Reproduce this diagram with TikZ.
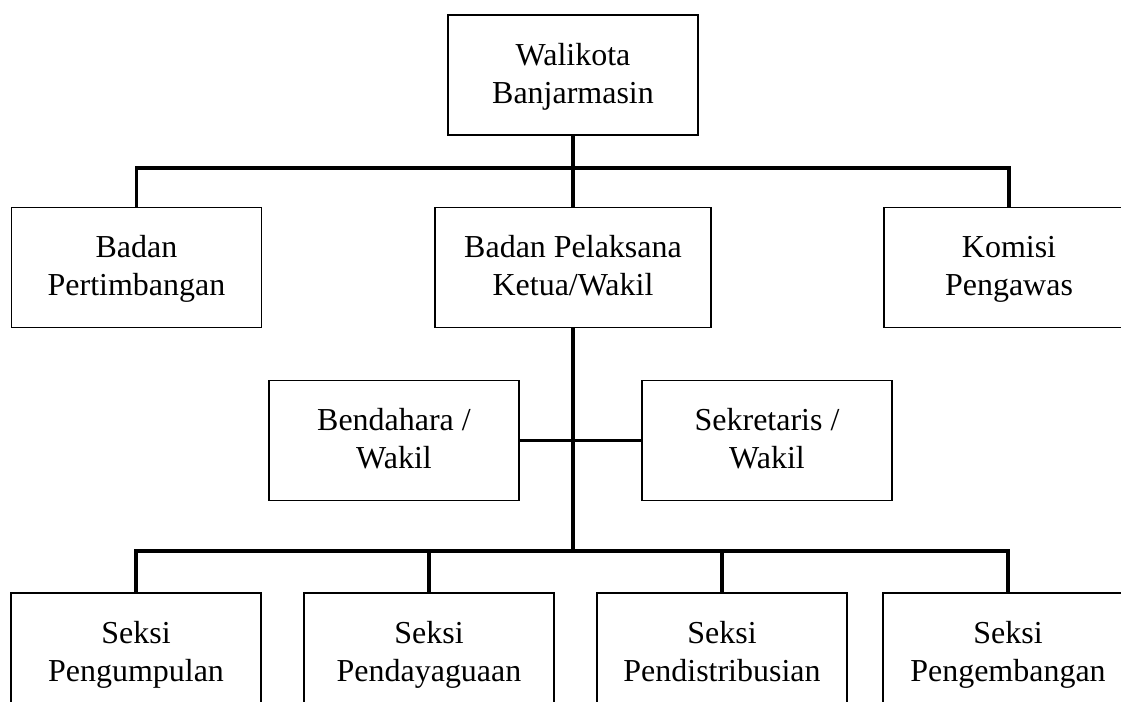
\documentclass[tikz,border=0pt]{standalone}
\usepackage{fontspec}
\setmainfont{Liberation Serif}
\usepackage{tikz}
\usetikzlibrary{positioning}
\tikzstyle{unit} = [rectangle, draw=black, line width=0.8pt, minimum width=5cm, minimum height=2.4cm, text centered, align=center, font=\fontsize{18.2pt}{21.6pt}\selectfont, text height=37pt, text depth=5pt]
\tikzstyle{link} = [draw=black, line width=2pt]

\begin{document}
\begin{tikzpicture}[x=0.02cm, y=-0.02cm]
\clip (0,0) rectangle (1121,702);

\node (walikota) [unit] at (573,75) {Walikota\\Banjarmasin};

\node (pertimbangan) [unit] at (136.5,267.5) {Badan\\Pertimbangan};
\node (pelaksana) [unit, minimum width=5.52cm] at (573,267.5) {Badan Pelaksana\\Ketua/Wakil};
\node (komisi) [unit] at (1009,267.5) {Komisi\\Pengawas};

\node (bendahara) [unit] at (394,440.5) {Bendahara /\\Wakil};
\node (sekretaris) [unit] at (767,440.5) {Sekretaris /\\Wakil};

\node (pengumpulan) [unit] at (136,653) {Seksi\\Pengumpulan};
\node (pendayaguaan) [unit] at (429,653) {Seksi\\Pendayaguaan};
\node (pendistribusian) [unit] at (722,653) {Seksi\\Pendistribusian};
\node (pengembangan) [unit] at (1008,653) {Seksi\\Pengembangan};

\coordinate (busatas) at (573,168);
\coordinate (busbawah) at (573,551);

% garis penghubung
\draw [link] (walikota.south) -- (pelaksana.north);
\draw [link] (pertimbangan.north) |- (busatas) -| (komisi.north);
\draw [link] (pelaksana.south) -- (busbawah);
\draw [link] (bendahara.east) -- (sekretaris.west);
\draw [link] (pengumpulan.north) |- (busbawah) -| (pengembangan.north);
\draw [link] (pendayaguaan.north) -- (pendayaguaan.north |- busbawah);
\draw [link] (pendistribusian.north) -- (pendistribusian.north |- busbawah);
\end{tikzpicture}
\end{document}
